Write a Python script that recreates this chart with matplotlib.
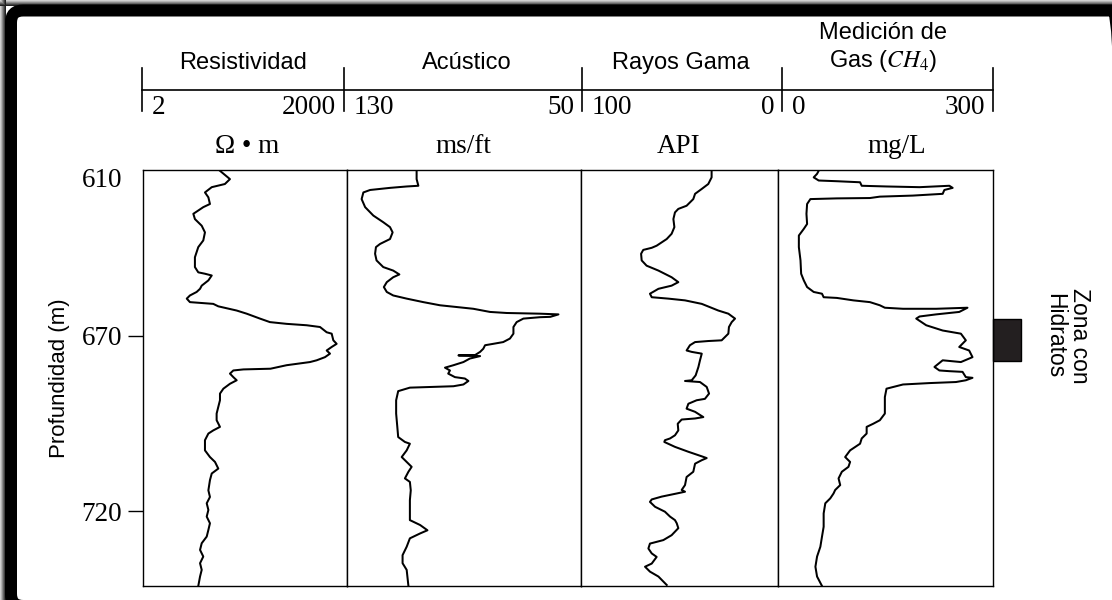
import matplotlib
matplotlib.use("Agg")
import matplotlib.pyplot as plt
from matplotlib.lines import Line2D
from matplotlib.patches import Rectangle, FancyBboxPatch
from matplotlib.transforms import blended_transform_factory

plt.rcParams["mathtext.fontset"] = "stix"

# ---------------- data ----------------
track_titles = ["Resistividad", "Acústico", "Rayos Gama", "Medición de\nGas ($CH_4$)"]
track_units = ["Ω • m", "ms/ft", "API", "mg/L"]
track_ranges = [(2, 2000), (130, 50), (100, 0), (0, 300)]
depth_ticks = [624.7, 670, 720]
depth_tick_labels = ["610", "670", "720"]
depth_limits = (741.4, 622.7)
hydrate_zone = (665.2, 677.2)

res_depth = [622.9, 625.3, 626.7, 627.6, 629.1, 630.5, 632.4, 633.3, 635.2, 636.7, 638.6, 640.5,
             642.8, 644.7, 647.6, 650.4, 651.9, 652.3, 652.8, 654.2, 655.7, 656.6, 657.5, 658.5,
             659.4, 660.4, 660.9, 661.6, 662.8, 663.7, 665.1, 666.1, 666.6, 667.0, 667.5, 669.0,
             669.4, 671.3, 672.3, 673.2, 674.2, 675.1, 676.1, 677.0, 677.5, 678.4, 679.4, 679.6,
             679.9, 680.8, 681.8, 682.7, 683.7, 685.1, 686.5, 688.4, 690.3, 692.2, 694.1, 696.0,
             697.0, 697.9, 699.8, 702.7, 704.6, 706.0, 707.9, 709.3, 711.2, 714.1, 716.0, 717.8,
             719.7, 721.6, 723.5, 725.4, 727.3, 729.2, 731.1, 733.0, 734.9, 736.8, 738.7, 741.4]
res_ohmm = [27, 38, 32, 20.5, 16.3, 18.3, 19.3, 15.4, 11.0, 11.6, 14.6, 16.3,
            15.4, 13.0, 11.6, 11.6, 13.0, 16.3, 20.5, 18.3, 14.6, 13.8, 12.3, 9.8,
            8.8, 9.8, 21.6, 25.6, 47.7, 67, 105, 147, 259, 511, 802, 1005,
            1190, 1259, 1409, 1190, 1005, 1125, 949, 716, 571, 259, 150, 60,
            42.6, 38, 42.6, 47.7, 38, 30.4, 27.1, 27.1, 25.6, 24.2, 24.2, 27.1,
            21.6, 18.3, 16.3, 16.3, 19.3, 22.9, 25.6, 20.5, 19.3, 18.3, 19.3, 17.3,
            18.3, 17.3, 19.3, 18.3, 17.3, 14.6, 13.8, 15.4, 13.8, 14.6, 13.8, 13.0]

ac_depth = [622.9, 625.3, 627.2, 627.4, 627.8, 628.4, 629.1, 631.0, 633.3, 635.7, 637.6, 639.0,
            640.5, 642.4, 643.8, 644.7, 646.6, 648.5, 650.4, 651.4, 652.5, 653.3, 654.7, 656.1,
            657.5, 658.5, 659.4, 660.4, 661.3, 661.8, 662.3, 663.2, 663.5, 663.7, 663.9, 664.6,
            664.7, 665.1, 666.1, 667.5, 669.4, 670.8, 671.8, 672.3, 672.7, 673.7, 674.6, 675.5,
            675.6, 675.8, 676.5, 677.5, 678.4, 679.1, 679.9, 680.8, 681.8, 682.2, 682.9, 683.9,
            684.4, 684.8, 685.8, 688.4, 692.2, 696.0, 698.9, 700.3, 700.8, 702.7, 704.6, 706.0,
            707.4, 708.8, 710.7, 711.7, 714.1, 716.9, 719.7, 722.6, 724.0, 725.5, 726.4, 727.8,
            730.2, 732.6, 734.9, 736.8, 741.4]
ac_msft = [106.2, 106.2, 105.6, 109.6, 115.3, 122.1, 124.4, 125.0, 123.8, 121.0, 117.6, 115.3,
           114.4, 115.3, 118.7, 120.1, 120.4, 119.9, 117.6, 114.2, 112.1, 114.2, 116.4, 117.4,
           116.4, 114.2, 109.6, 103.9, 98.2, 92.5, 86.8, 81.1, 75.4, 64.0, 57.7, 60.5,
           64.0, 69.7, 72.0, 73.1, 73.1, 74.3, 76.6, 80.0, 82.8, 83.4, 84.5, 86.2,
           91.9, 84.5, 88.0, 90.2, 93.6, 96.5, 94.8, 95.4, 93.1, 89.7, 88.5, 90.2,
           93.6, 108.5, 112.5, 113.2, 113.2, 112.8, 112.5, 110.2, 108.5, 109.6, 111.3, 109.6,
           107.9, 109.0, 110.2, 108.5, 108.2, 108.5, 108.5, 108.5, 105.0, 102.5, 105.0, 108.5,
           109.6, 111.0, 111.0, 109.6, 109.0]

gr_depth = [622.9, 624.8, 626.7, 628.1, 629.5, 631.0, 632.9, 633.8, 634.8, 636.7, 639.0, 640.9,
            642.4, 644.3, 644.9, 645.5, 646.6, 648.5, 650.0, 651.4, 653.3, 654.7, 655.7, 656.6,
            658.0, 659.0, 659.4, 659.9, 660.9, 662.8, 663.7, 665.1, 666.1, 667.5, 669.4, 671.3,
            671.5, 671.8, 672.7, 674.2, 674.6, 675.1, 677.0, 678.9, 681.3, 682.7, 682.9, 683.2,
            684.6, 686.5, 688.0, 688.4, 689.4, 690.8, 691.7, 693.2, 693.6, 693.9, 695.1, 697.0,
            698.4, 699.3, 699.8, 700.3, 701.7, 703.1, 704.4, 704.9, 705.5, 706.5, 708.8, 710.3,
            712.6, 714.0, 714.5, 715.0, 715.9, 716.7, 717.4, 718.8, 720.2, 721.6, 722.6, 723.5,
            724.9, 725.9, 726.9, 728.3, 729.3, 730.7, 732.1, 733.1, 735.0, 735.9, 737.3, 738.7,
            741.1]
gr_api = [33.7, 33.7, 35.4, 38.7, 42.1, 43.0, 46.4, 50.6, 52.3, 53.1, 52.6, 54.0,
          56.5, 61.6, 64.1, 68.4, 69.5, 69.2, 66.7, 60.7, 54.0, 50.6, 54.0, 60.7,
          65.0, 64.1, 55.7, 47.2, 38.7, 30.3, 25.2, 21.8, 23.5, 24.9, 25.2, 28.6,
          35.4, 42.1, 44.7, 46.4, 43.8, 38.7, 39.6, 40.4, 41.8, 43.8, 47.2, 39.6,
          36.2, 35.0, 37.1, 41.3, 45.5, 46.4, 42.1, 37.9, 42.1, 48.9, 50.9, 50.6,
          52.3, 54.8, 57.4, 57.7, 52.3, 45.5, 38.7, 36.2, 38.7, 42.1, 43.0, 46.4,
          47.2, 48.9, 47.2, 51.4, 59.1, 64.1, 65.0, 62.4, 57.4, 54.8, 52.3, 51.4,
          50.6, 52.3, 54.0, 58.2, 65.0, 65.8, 64.1, 61.6, 64.1, 67.5, 65.0, 60.7,
          56.5]

gas_depth = [622.9, 623.8, 624.8, 625.7, 625.9, 626.2, 627.2, 627.4, 627.6, 627.2, 627.8, 628.4,
             629.5, 630.0, 630.3, 630.7, 630.8, 631.0, 632.4, 635.2, 638.1, 639.5, 641.4, 644.7,
             648.5, 652.3, 654.2, 656.1, 657.5, 658.0, 659.0, 659.2, 659.9, 660.4, 661.3, 662.0,
             662.3, 662.3, 662.0, 663.2, 663.9, 664.5, 665.1, 667.0, 668.5, 669.4, 671.3, 673.2,
             674.2, 676.1, 677.5, 677.0, 678.9, 679.9, 680.1, 680.3, 681.8, 682.0, 682.7, 683.2,
             683.5, 683.9, 685.1, 687.5, 690.3, 692.2, 694.1, 695.1, 696.0, 697.9, 699.3, 700.8,
             702.7, 704.6, 706.0, 707.4, 708.8, 710.7, 712.6, 714.0, 715.0, 716.4, 717.8, 720.7,
             724.5, 727.3, 730.2, 733.0, 735.9, 738.7, 741.4]
gas_mgl = [56.8, 54.5, 49.8, 56.8, 82.1, 114.5, 116.8, 151.4, 197.5, 239.1, 243.7, 232.1,
           229.8, 188.3, 142.1, 128.3, 82.1, 45.2, 40.6, 39.7, 40.6, 36.0, 29.1, 29.1,
           31.4, 32.3, 36.0, 40.6, 49.8, 61.4, 63.7, 82.1, 105.2, 128.3, 142.1, 149.1,
           174.4, 220.6, 264.4, 252.9, 220.6, 197.5, 192.9, 206.8, 229.8, 255.2, 262.1, 252.9,
           266.7, 271.4, 255.2, 229.8, 218.3, 225.2, 239.1, 257.5, 262.1, 271.4, 262.1, 248.3,
           211.4, 174.4, 151.4, 149.1, 149.1, 149.1, 142.1, 132.9, 123.7, 123.7, 116.8, 114.5,
           100.6, 93.7, 100.6, 98.3, 89.1, 84.5, 86.8, 79.8, 77.5, 72.9, 66.0, 63.7,
           63.7, 61.4, 59.1, 54.5, 52.2, 54.5, 61.4]

curves = [(res_ohmm, res_depth), (ac_msft, ac_depth), (gr_api, gr_depth), (gas_mgl, gas_depth)]

# ---------------- layout ----------------
W, H = 1112, 600
SERIF = "Liberation Serif"
SANS = "Liberation Sans"

fig = plt.figure(figsize=(W / 100, H / 100), dpi=100)
fig.patch.set_facecolor("white")


def fx(x):
    return x / W


def fy(y):
    return 1 - y / H


track_edges = [143, 347, 581, 778, 993]
plot_top, plot_bottom = 170, 586

axes = []
for i in range(4):
    ax = fig.add_axes([fx(track_edges[i]), fy(plot_bottom),
                       fx(track_edges[i + 1] - track_edges[i]), (plot_bottom - plot_top) / H])
    vals, dep = curves[i]
    ax.plot(vals, dep, color="black", lw=1.45, solid_joinstyle="round")
    if i == 0:
        ax.set_xscale("log")
    ax.set_xlim(*track_ranges[i])
    ax.set_ylim(*depth_limits)
    ax.set_xticks([])
    ax.minorticks_off()
    ax.set_xticks([], minor=True)
    for s in ax.spines.values():
        s.set_linewidth(1.0)
    if i == 0:
        ax.set_yticks(depth_ticks)
        ax.set_yticklabels(depth_tick_labels, fontfamily=SERIF, fontsize=19.5)
        ax.tick_params(axis="y", length=11, width=1.0, pad=4)
        ax.yaxis.get_major_ticks()[0].tick1line.set_visible(False)
        ax.set_ylabel("Profundidad (m)", fontfamily=SANS, fontsize=16, labelpad=8)
    else:
        ax.set_yticks([])
    axes.append(ax)

# hydrate zone marker beside the gas track
ax4 = axes[3]
tr = blended_transform_factory(ax4.transAxes, ax4.transData)
ax4.add_patch(Rectangle((1.0, hydrate_zone[0]), 28 / (track_edges[4] - track_edges[3]),
                        hydrate_zone[1] - hydrate_zone[0], transform=tr, clip_on=False,
                        facecolor="#231f20", edgecolor="black", lw=1.0))
fig.text(fx(1067), fy(336), "Zona con\nHidratos", rotation=270, ha="center", va="center",
         fontfamily=SANS, fontsize=16.5, linespacing=1.15, multialignment="center")

# ---------------- header ----------------
hdr_x = [142, 344, 582, 782, 993]
fig.add_artist(Line2D([fx(hdr_x[0]), fx(hdr_x[-1])], [fy(90), fy(90)], color="black", lw=1.2))
for x in hdr_x:
    fig.add_artist(Line2D([fx(x), fx(x)], [fy(68), fy(111)], color="black", lw=1.2))

title_x = [243, 467, 681, 883]
title_y = [63, 63, 63, 48]
unit_x = [247, 463, 679, 897]
for i in range(4):
    fig.text(fx(title_x[i]), fy(title_y[i]), track_titles[i], ha="center", va="center",
             fontfamily=SANS, fontsize=17, linespacing=1.25, multialignment="center")
    fig.text(fx(unit_x[i]), fy(146), track_units[i], ha="center", va="center",
             fontfamily=SERIF, fontsize=19.5)
    lo, hi = track_ranges[i]
    fig.text(fx(hdr_x[i] + 10), fy(108), f"{lo:g}", ha="left", va="center",
             fontfamily=SERIF, fontsize=19.5)
    fig.text(fx(hdr_x[i + 1] - 8), fy(108), f"{hi:g}", ha="right", va="center",
             fontfamily=SERIF, fontsize=19.5)

# ---------------- decorative frame ----------------
for k, g in enumerate([0.82, 0.7, 0.55, 0.4, 0.25, 0.12]):
    fig.add_artist(Rectangle((k / W, 0), 1.2 / W, 1, transform=fig.transFigure,
                             facecolor=str(g), edgecolor="none"))
    fig.add_artist(Rectangle((0, 1 - (k + 1.2) / H), 1, 1.2 / H, transform=fig.transFigure,
                             facecolor=str(g), edgecolor="none"))
frame = FancyBboxPatch((11 / 100, -0.06), (1125 - 11) / 100, (600 - 10.5) / 100 + 0.06,
                       boxstyle="round,pad=0,rounding_size=0.12",
                       transform=fig.dpi_scale_trans, facecolor="none",
                       edgecolor="black", lw=12 * 0.72)
fig.add_artist(frame)

fig.savefig("out.png", dpi=100, facecolor="white")
